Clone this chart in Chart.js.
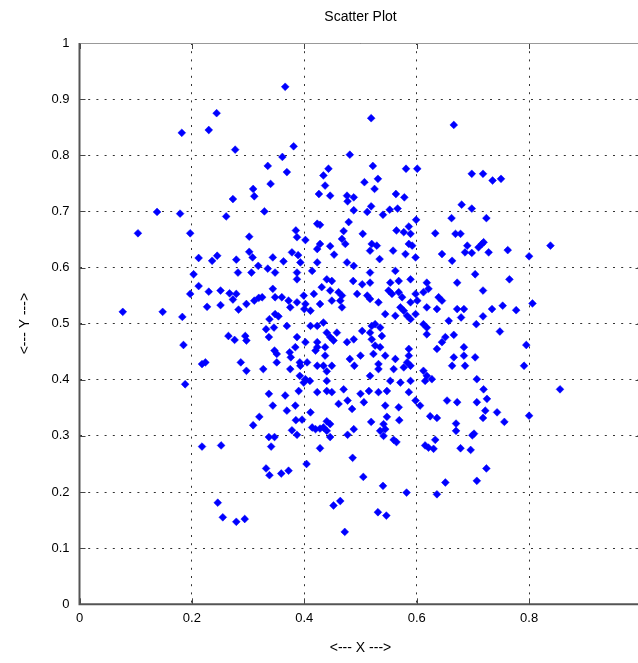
<!DOCTYPE html>
<html><head><meta charset="utf-8">
<script src="https://cdn.jsdelivr.net/npm/chart.js@4.4.1/dist/chart.umd.min.js"></script>
<style>
html,body{margin:0;padding:0;background:#fff;overflow:hidden;width:638px;height:663px;}
#wrap{position:absolute;left:0;top:0;width:706px;height:663px;}
</style>
</head><body><div id="wrap"><canvas id="c" width="706" height="663"></canvas></div>
<script>
const chartTitle = 'Scatter Plot';
const xAxisTitle = '<--- X --->';
const yAxisTitle = '<--- Y --->';
const xTickValues = [0, 0.2, 0.4, 0.6, 0.8, 1];
const xTickLabels = ['0', '0.2', '0.4', '0.6', '0.8', '1'];
const yTickValues = [0, 0.1, 0.2, 0.3, 0.4, 0.5, 0.6, 0.7, 0.8, 0.9, 1];
const yTickLabels = ['0', '0.1', '0.2', '0.3', '0.4', '0.5', '0.6', '0.7', '0.8', '0.9', '1'];

// [x, y] samples
const scatterPoints = [
[0.182,0.840],[0.230,0.845],[0.244,0.875],[0.138,0.699],[0.179,0.696],[0.366,0.922],
[0.277,0.810],[0.381,0.816],[0.361,0.797],[0.335,0.781],[0.369,0.770],[0.481,0.801],
[0.443,0.776],[0.434,0.764],[0.437,0.746],[0.426,0.731],[0.446,0.728],[0.309,0.740],
[0.311,0.727],[0.340,0.749],[0.273,0.722],[0.329,0.700],[0.261,0.691],[0.476,0.728],
[0.477,0.718],[0.488,0.725],[0.479,0.681],[0.423,0.678],[0.428,0.676],[0.385,0.666],
[0.488,0.702],
[0.519,0.866],[0.666,0.854],[0.522,0.781],[0.581,0.776],[0.601,0.776],[0.698,0.767],
[0.718,0.767],[0.735,0.755],[0.507,0.752],[0.531,0.758],[0.525,0.740],[0.563,0.731],
[0.578,0.725],[0.680,0.712],[0.698,0.705],[0.519,0.709],[0.512,0.699],[0.540,0.694],
[0.552,0.703],[0.566,0.705],[0.599,0.685],[0.586,0.673],[0.662,0.688],[0.724,0.688],
[0.564,0.666],[0.750,0.758],
[0.104,0.661],[0.197,0.661],[0.212,0.617],[0.236,0.612],[0.245,0.621],[0.203,0.588],
[0.212,0.567],[0.230,0.557],[0.197,0.553],[0.227,0.530],[0.077,0.521],[0.148,0.521],
[0.183,0.512],[0.185,0.462],[0.218,0.428],[0.224,0.431],[0.188,0.392],
[0.302,0.655],[0.387,0.654],[0.402,0.649],[0.428,0.642],[0.446,0.638],[0.467,0.651],
[0.473,0.642],[0.470,0.665],[0.423,0.633],[0.453,0.623],[0.302,0.628],[0.308,0.618],
[0.279,0.614],[0.344,0.618],[0.363,0.611],[0.378,0.627],[0.389,0.622],[0.393,0.609],
[0.423,0.609],[0.476,0.609],[0.488,0.603],[0.282,0.591],[0.306,0.591],[0.318,0.603],
[0.335,0.598],[0.348,0.591],[0.387,0.591],[0.414,0.594],[0.387,0.579],[0.440,0.579],
[0.449,0.576],[0.487,0.576],[0.431,0.565],[0.446,0.559],[0.461,0.556],[0.467,0.550],
[0.251,0.559],[0.267,0.554],[0.279,0.553],[0.273,0.543],[0.251,0.533],[0.283,0.525],
[0.297,0.535],[0.311,0.541],[0.319,0.546],[0.325,0.547],[0.344,0.562],[0.348,0.547],
[0.360,0.547],[0.372,0.541],[0.375,0.529],[0.387,0.538],[0.399,0.550],[0.402,0.535],
[0.400,0.526],[0.417,0.553],[0.428,0.535],[0.411,0.523],[0.449,0.541],[0.464,0.541],
[0.467,0.529],[0.348,0.517],[0.354,0.513],[0.338,0.508],[0.346,0.493],[0.332,0.490],
[0.369,0.496],[0.337,0.476],[0.265,0.478],[0.276,0.471],[0.295,0.478],[0.297,0.470],
[0.387,0.476],[0.402,0.467],[0.411,0.496],[0.423,0.496],[0.434,0.502],[0.440,0.484],
[0.446,0.476],[0.452,0.470],[0.458,0.484],[0.476,0.467],[0.488,0.472],[0.423,0.467],
[0.423,0.458],[0.437,0.458],[0.384,0.458],[0.374,0.449],[0.347,0.452],[0.351,0.446],
[0.376,0.440],[0.351,0.431],[0.392,0.431],[0.393,0.425],[0.405,0.431],[0.420,0.452],
[0.437,0.443],[0.423,0.425],[0.434,0.425],[0.449,0.425],[0.481,0.437],[0.489,0.425],
[0.287,0.431],[0.297,0.416],[0.327,0.419],[0.375,0.419],[0.392,0.407],[0.402,0.401],
[0.399,0.395],[0.410,0.398],[0.440,0.415],[0.440,0.398],[0.470,0.383],[0.390,0.380],
[0.423,0.378],[0.440,0.380],[0.449,0.378],[0.337,0.375],[0.366,0.372],[0.344,0.354],
[0.384,0.354],[0.369,0.345],[0.411,0.342],[0.461,0.357],[0.477,0.363],[0.485,0.348],
[0.320,0.334],
[0.504,0.660],[0.520,0.642],[0.529,0.639],[0.517,0.630],[0.577,0.663],[0.589,0.660],
[0.586,0.642],[0.592,0.639],[0.558,0.630],[0.580,0.624],[0.598,0.618],[0.633,0.661],
[0.669,0.660],[0.678,0.660],[0.690,0.639],[0.686,0.627],[0.698,0.626],[0.710,0.636],
[0.716,0.642],[0.728,0.627],[0.719,0.645],[0.645,0.624],[0.663,0.612],[0.534,0.615],
[0.517,0.591],[0.562,0.594],[0.568,0.576],[0.553,0.573],[0.589,0.579],[0.618,0.573],
[0.517,0.573],[0.503,0.570],[0.494,0.553],[0.512,0.550],[0.517,0.544],[0.532,0.538],
[0.550,0.559],[0.556,0.553],[0.568,0.556],[0.574,0.547],[0.589,0.538],[0.598,0.553],
[0.601,0.541],[0.612,0.556],[0.621,0.562],[0.639,0.547],[0.645,0.541],[0.636,0.526],
[0.618,0.529],[0.672,0.573],[0.704,0.588],[0.718,0.559],[0.672,0.526],[0.684,0.526],
[0.679,0.511],[0.734,0.526],[0.718,0.513],[0.706,0.499],[0.657,0.505],[0.666,0.480],
[0.571,0.529],[0.577,0.523],[0.583,0.514],[0.598,0.517],[0.544,0.517],[0.562,0.514],
[0.526,0.499],[0.520,0.496],[0.535,0.493],[0.503,0.487],[0.517,0.484],[0.538,0.478],
[0.520,0.472],[0.526,0.461],[0.535,0.458],[0.500,0.443],[0.523,0.446],[0.544,0.443],
[0.589,0.508],[0.612,0.499],[0.618,0.493],[0.618,0.481],[0.586,0.455],[0.586,0.443],
[0.562,0.437],[0.583,0.431],[0.636,0.455],[0.645,0.467],[0.651,0.476],[0.684,0.458],
[0.684,0.443],[0.666,0.440],[0.704,0.440],[0.663,0.425],[0.686,0.425],[0.532,0.428],
[0.532,0.419],[0.559,0.419],[0.577,0.422],[0.589,0.425],[0.612,0.416],[0.618,0.407],
[0.627,0.401],[0.615,0.398],[0.517,0.407],[0.553,0.398],[0.571,0.395],[0.589,0.398],
[0.532,0.378],[0.547,0.380],[0.586,0.378],[0.500,0.375],[0.515,0.380],[0.506,0.360],
[0.544,0.354],[0.568,0.351],[0.598,0.363],[0.606,0.354],[0.654,0.363],[0.672,0.360],
[0.707,0.360],[0.725,0.366],[0.719,0.383],[0.707,0.401],[0.722,0.345],[0.624,0.335],
[0.547,0.334],
[0.762,0.631],[0.800,0.620],[0.838,0.639],[0.765,0.579],[0.753,0.532],[0.777,0.524],
[0.806,0.536],[0.748,0.486],[0.795,0.462],[0.791,0.425],[0.855,0.383],[0.743,0.342],
[0.800,0.336],
[0.218,0.281],[0.246,0.181],
[0.309,0.319],[0.385,0.328],[0.396,0.329],[0.378,0.310],[0.387,0.302],[0.337,0.298],
[0.347,0.298],[0.341,0.281],[0.414,0.315],[0.420,0.312],[0.428,0.313],[0.434,0.315],
[0.440,0.326],[0.446,0.321],[0.440,0.309],[0.446,0.298],[0.477,0.302],[0.488,0.312],
[0.252,0.283],[0.428,0.278],[0.486,0.261],[0.404,0.250],[0.332,0.242],[0.338,0.230],
[0.359,0.233],[0.372,0.238],[0.255,0.155],[0.279,0.147],[0.294,0.152],[0.452,0.176],
[0.464,0.184],[0.472,0.129],
[0.519,0.325],[0.541,0.321],[0.544,0.312],[0.535,0.309],[0.541,0.300],[0.569,0.328],
[0.559,0.293],[0.564,0.289],[0.636,0.332],[0.670,0.322],[0.670,0.309],[0.699,0.301],
[0.702,0.304],[0.718,0.332],[0.615,0.283],[0.621,0.279],[0.630,0.277],[0.633,0.293],
[0.678,0.278],[0.696,0.275],[0.724,0.242],[0.505,0.227],[0.540,0.211],[0.582,0.199],
[0.636,0.196],[0.651,0.217],[0.707,0.220],[0.531,0.164],[0.546,0.158],
[0.756,0.325]
];

const frameAndTicks = {
  id: 'frameAndTicks',
  afterDraw(chart) {
    const {ctx, chartArea: a, scales: {x, y}} = chart;
    ctx.save();
    const L = 6;
    ctx.strokeStyle = '#444';
    ctx.lineWidth = 1;
    ctx.beginPath();
    x.ticks.forEach(t => {
      const px = Math.round(x.getPixelForValue(t.value)) + 0.5;
      ctx.moveTo(px, a.bottom); ctx.lineTo(px, a.bottom - L);
      ctx.moveTo(px, a.top); ctx.lineTo(px, a.top + L);
    });
    y.ticks.forEach(t => {
      const py = Math.round(y.getPixelForValue(t.value)) + 0.5;
      ctx.moveTo(a.left, py); ctx.lineTo(a.left + L, py);
      ctx.moveTo(a.right, py); ctx.lineTo(a.right - L, py);
    });
    ctx.stroke();
    ctx.strokeStyle = '#999';
    ctx.beginPath();
    ctx.moveTo(a.left, a.top + 0.5); ctx.lineTo(a.right, a.top + 0.5);
    ctx.moveTo(a.right - 0.5, a.top); ctx.lineTo(a.right - 0.5, a.bottom);
    ctx.stroke();
    ctx.strokeStyle = '#555';
    ctx.lineWidth = 2;
    ctx.beginPath();
    ctx.moveTo(a.left, a.top); ctx.lineTo(a.left, a.bottom);
    ctx.lineTo(a.right, a.bottom);
    ctx.stroke();
    ctx.restore();
  }
};

const fontFamily = "'Liberation Sans', Arial, sans-serif";

new Chart(document.getElementById('c'), {
  type: 'scatter',
  data: {
    datasets: [{
      data: scatterPoints.map(p => ({x: p[0], y: p[1]})),
      pointStyle: 'rectRot',
      pointRadius: 3.9,
      pointBorderWidth: 0.5,
      backgroundColor: '#0000ff',
      borderColor: '#0000ff',
      pointHoverRadius: 3.9
    }]
  },
  options: {
    responsive: false,
    devicePixelRatio: 1,
    animation: false,
    events: [],
    layout: {padding: {left: 0, right: 64.5, top: 0, bottom: 0}},
    plugins: {
      legend: {display: false},
      tooltip: {enabled: false},
      title: {
        display: true, text: chartTitle, fullSize: false,
        color: '#000', font: {family: fontFamily, size: 14, weight: 'normal'},
        padding: {top: 9, bottom: 17.2}
      }
    },
    scales: {
      x: {
        type: 'linear', min: 0, max: 1,
        afterBuildTicks: s => { s.ticks = xTickValues.map(v => ({value: v})); },
        afterFit: s => { s.height = 58.7; },
        ticks: {
          color: '#000', padding: 6, maxRotation: 0, autoSkip: false,
          font: {family: fontFamily, size: 13},
          callback: (v, i) => xTickLabels[i]
        },
        grid: {color: '#333', lineWidth: 1, drawTicks: false},
        border: {display: false, dash: [2, 6.2]},
        title: {display: true, text: xAxisTitle, color: '#000',
          font: {family: fontFamily, size: 14}, padding: {top: 0, bottom: 6}}
      },
      y: {
        type: 'linear', min: 0, max: 1,
        afterBuildTicks: s => { s.ticks = yTickValues.map(v => ({value: v})); },
        afterFit: s => { s.width = 79.5; },
        ticks: {
          color: '#000', padding: 10, autoSkip: false,
          font: {family: fontFamily, size: 13},
          callback: (v, i) => yTickLabels[i]
        },
        grid: {color: '#333', lineWidth: 1, drawTicks: false},
        border: {display: false, dash: [2, 6.2]},
        title: {display: true, text: yAxisTitle, color: '#000',
          font: {family: fontFamily, size: 14}, padding: {top: 17, bottom: 0}}
      }
    }
  },
  plugins: [frameAndTicks]
});
</script>
</body></html>
